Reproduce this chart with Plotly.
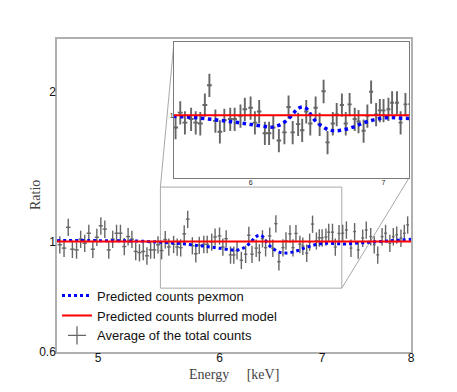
import math
import plotly.graph_objects as go

# measured ratio (data / model), energies in keV
energy = [4.72, 4.75, 4.78, 4.81, 4.84, 4.87, 4.90, 4.93, 4.96, 4.99,
          5.02, 5.05, 5.08, 5.11, 5.14, 5.17, 5.20, 5.23, 5.26, 5.29,
          5.32, 5.35, 5.38, 5.41, 5.44, 5.47,
          5.50, 5.53, 5.56, 5.60, 5.63, 5.66, 5.69, 5.72, 5.76, 5.79,
          5.82, 5.86, 5.89, 5.93, 5.96, 6.00, 6.03, 6.06, 6.10, 6.13,
          6.16, 6.20, 6.24, 6.27, 6.30, 6.34, 6.37, 6.40, 6.43, 6.47,
          6.50, 6.53, 6.56, 6.60, 6.63, 6.67, 6.70, 6.73, 6.77, 6.80,
          6.84, 6.87, 6.90, 6.94, 6.97, 7.00, 7.04, 7.07, 7.11, 7.14,
          7.18,
          7.22, 7.26, 7.31, 7.35, 7.39, 7.44, 7.48, 7.53, 7.57, 7.61,
          7.66, 7.70, 7.75, 7.79, 7.83, 7.88, 7.92, 7.96]
ratio = [0.985, 0.970, 1.068, 0.965, 0.962, 1.011, 0.992, 1.039, 0.965, 1.020,
         1.075, 1.059, 0.962, 1.011, 1.039, 1.039, 0.977, 1.023, 1.011, 0.955,
         0.950, 0.955, 0.936, 0.962, 0.962, 0.985,
         0.959, 1.009, 0.975, 0.987, 0.975, 0.972, 1.036, 1.109, 0.981, 0.945,
         0.983, 0.987, 0.987, 0.998, 1.021, 1.026, 0.975, 1.013, 0.940, 0.940,
         0.959, 0.917, 0.943, 1.029, 0.943, 0.970, 0.950, 1.013, 0.972, 1.026,
         0.970, 1.086, 0.911, 0.972, 1.003, 1.036, 0.972, 1.038, 0.987, 0.979,
         0.948, 0.998, 1.084, 1.003, 1.017, 1.017, 1.021, 1.044, 1.044, 0.975,
         1.038,
         1.039, 1.055, 0.970, 1.047, 0.962, 1.016, 1.055, 1.023, 0.985, 0.940,
         1.023, 1.039, 0.992, 1.023, 1.031, 1.016, 1.039, 1.080]
ratio_err_pct = 4.0
half_bin = 0.016

# pexmon model prediction
model_energy = [4.70, 5.00, 5.30, 5.50, 5.60, 5.70, 5.80, 5.90, 6.00, 6.10,
                6.15, 6.20, 6.25, 6.30, 6.33, 6.37, 6.40, 6.43, 6.47, 6.52,
                6.57, 6.62, 6.68, 6.75, 6.82, 6.90, 6.97, 7.05, 7.15, 7.25,
                7.50, 7.75, 8.00]
model_ratio = [1.004, 1.004, 1.002, 0.996, 0.993, 0.988, 0.982, 0.976, 0.969, 0.962,
               0.960, 0.966, 0.980, 1.003, 1.020, 1.029, 1.024, 1.004, 0.980, 0.962,
               0.951, 0.948, 0.951, 0.959, 0.971, 0.982, 0.989, 0.992, 0.990, 0.989,
               0.996, 1.003, 1.010]

# blurred model prediction
blur_energy = [4.70, 8.00]
blur_ratio = [1.0, 1.0]

x_range = [4.7, 8.0]
y_range = [0.6, 2.55]
zoom_x = [5.49, 7.21]
zoom_y = [0.806, 1.286]
inset_dom_x = [0.3305, 0.9944]
inset_dom_y = [0.556, 0.990]

GREY = "#666666"
SANS = "Liberation Sans, Arial, sans-serif"
SERIF = "Liberation Serif, Times New Roman, serif"


def px(e):
    lo, hi = math.log10(x_range[0]), math.log10(x_range[1])
    return (math.log10(e) - lo) / (hi - lo)


def py(r):
    lo, hi = math.log10(y_range[0]), math.log10(y_range[1])
    return (math.log10(r) - lo) / (hi - lo)


fig = go.Figure()

for xa, ya, dot_w, bar_w in [("x", "y", 3, 1.4), ("x2", "y2", 3.5, 1.9)]:
    fig.add_trace(go.Scatter(
        x=energy, y=ratio, mode="markers", xaxis=xa, yaxis=ya,
        marker=dict(size=2, color="rgba(0,0,0,0)"),
        error_y=dict(type="percent", value=ratio_err_pct, color=GREY, thickness=bar_w, width=0),
        error_x=dict(type="constant", value=half_bin, color=GREY, thickness=bar_w, width=0),
        showlegend=False, hoverinfo="skip"))
    fig.add_trace(go.Scatter(
        x=model_energy, y=model_ratio, mode="lines", xaxis=xa, yaxis=ya,
        line=dict(color="#0000ff", width=dot_w, dash="dot", shape="spline"),
        name="Predicted counts pexmon", showlegend=(xa == "x")))
    fig.add_trace(go.Scatter(
        x=blur_energy, y=blur_ratio, mode="lines", xaxis=xa, yaxis=ya,
        line=dict(color="#ff0000", width=2.2),
        name="Predicted counts blurred model", showlegend=(xa == "x")))

# legend entry for the data
fig.add_trace(go.Scatter(
    x=[None], y=[None], mode="markers",
    marker=dict(symbol="cross-thin", size=13, line=dict(color=GREY, width=1.3)),
    name="Average of the total counts"))

# zoom rectangle and connectors
shapes = [
    dict(type="rect", xref="paper", yref="paper",
         x0=px(zoom_x[0]), x1=px(zoom_x[1]), y0=py(zoom_y[0]), y1=py(zoom_y[1]),
         line=dict(color="#a8a8a8", width=1), layer="below"),
    dict(type="line", xref="paper", yref="paper",
         x0=px(zoom_x[0]), y0=py(zoom_y[1]), x1=inset_dom_x[0], y1=inset_dom_y[1],
         line=dict(color="#a8a8a8", width=1), layer="below"),
    dict(type="line", xref="paper", yref="paper",
         x0=px(zoom_x[1]), y0=py(zoom_y[0]), x1=inset_dom_x[1], y1=inset_dom_y[0],
         line=dict(color="#a8a8a8", width=1), layer="below"),
]

fig.update_layout(
    width=457, height=392,
    margin=dict(l=49, r=54, t=31, b=48),
    paper_bgcolor="white", plot_bgcolor="white",
    shapes=shapes,
    showlegend=True,
    legend=dict(x=0.0, y=0.228, xanchor="left", yanchor="top",
                bgcolor="rgba(0,0,0,0)", font=dict(family=SANS, size=13, color="#111"),
                tracegroupgap=0, itemwidth=30),
    xaxis=dict(type="log", range=[math.log10(v) for v in x_range],
               showgrid=False, zeroline=False, showline=True, mirror=True,
               linecolor="#b0b0b0", linewidth=1.5, ticks="", ticklabelstandoff=-6,
               tickvals=[5, 6, 7, 8], ticktext=["5", "6", "7", "8"],
               tickfont=dict(family=SANS, size=12, color="#111")),
    yaxis=dict(type="log", range=[math.log10(v) for v in y_range],
               showgrid=False, zeroline=False, showline=True, mirror=True,
               linecolor="#b0b0b0", linewidth=1.5, ticks="", ticklabelstandoff=-3,
               tickvals=[0.6, 1, 2], ticktext=["0.6", "1", "2"],
               tickfont=dict(family=SANS, size=12, color="#111")),
    xaxis2=dict(type="log", range=[math.log10(v) for v in zoom_x],
                domain=inset_dom_x, anchor="y2",
                showgrid=False, zeroline=False, showline=True, mirror=True,
                linecolor="#7a7a7a", linewidth=1, ticks="", ticklabelstandoff=-2,
                tickvals=[6, 7], ticktext=["6", "7"],
                tickfont=dict(family=SANS, size=7, color="#222")),
    yaxis2=dict(type="log", range=[math.log10(v) for v in zoom_y],
                domain=inset_dom_y, anchor="x2",
                showgrid=False, zeroline=False, showline=True, mirror=True,
                linecolor="#7a7a7a", linewidth=1, ticks="", ticklabelstandoff=-2,
                tickvals=[1], ticktext=["1"],
                tickfont=dict(family=SANS, size=7, color="#222")),
    annotations=[
        dict(text="Ratio", xref="paper", yref="paper", x=-0.059, y=0.502,
             textangle=-90, showarrow=False, xanchor="center", yanchor="middle",
             font=dict(family=SERIF, size=14, color="#444")),
        dict(text="Energy\u00a0\u00a0\u00a0\u00a0\u00a0[keV]", xref="paper", yref="paper",
             x=0.5, y=-0.072, showarrow=False, xanchor="center", yanchor="middle",
             font=dict(family=SERIF, size=14, color="#444")),
    ],
)

fig.write_html("out.html")
